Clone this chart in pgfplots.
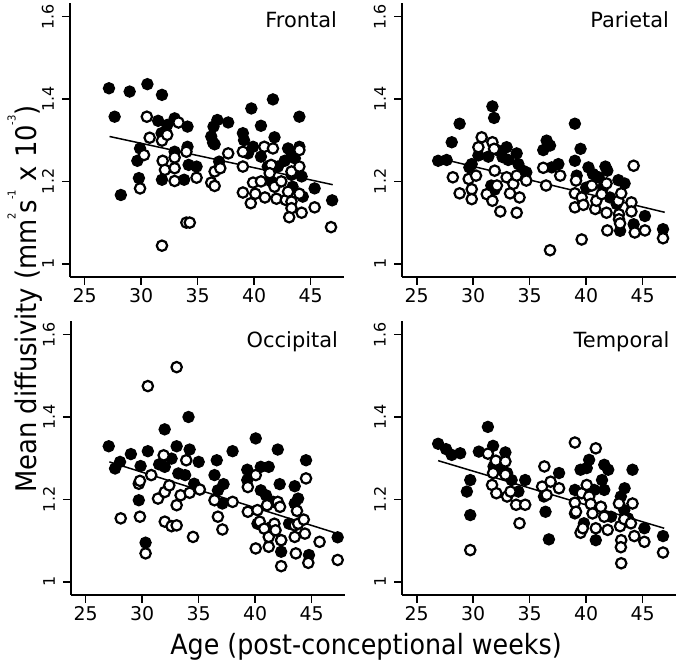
\documentclass[border=0pt]{standalone}
\usepackage{fontspec}
\setmainfont{DejaVu Sans}
\newfontfamily\labfont[FakeStretch=0.91]{DejaVu Sans}
\usepackage{pgfplots}
\pgfplotsset{compat=1.18}
\newcommand\sups[1]{\raisebox{21bp}{\fontsize{11}{11}\selectfont #1}}
\tikzset{ttl/.style={anchor=base east, inner sep=0pt, font=\fontsize{21}{23}\selectfont}}
\pgfplotsset{
  panel/.style={
    width=274bp, height=274bp, scale only axis,
    xmin=23.7, xmax=47.95, ymin=0.968, ymax=1.633,
    axis x line*=bottom, axis y line*=left,
    axis line style={line width=1.8bp, -},
    xtick={25,30,35,40,45}, ytick={1,1.2,1.4,1.6},
    tick align=outside, major tick length=8bp,
    every tick/.style={line width=1.6bp, black},
    xticklabel style={font=\fontsize{19}{21}\selectfont},
    yticklabel style={font=\fontsize{16}{18}\selectfont, rotate=90, anchor=south, inner sep=0pt},
    yticklabel shift=8bp,
    /pgf/number format/assume math mode=true,
    clip=false,
  },
  filled/.style={only marks, mark=*, mark size=5.6bp, mark options={fill=black, draw=black, line width=1.2bp}},
  open/.style={only marks, mark=*, mark size=5.2bp, mark options={fill=white, draw=black, line width=2.2bp}},
  reg/.style={black, line width=1.5bp, no marks},
}
\begin{document}
\begin{tikzpicture}[x=1bp,y=1bp]
\path[use as bounding box] (0,0) rectangle (680,662);

% ---------- Frontal ----------
\begin{axis}[panel, at={(70bp,385bp)}]
\addplot[filled] table {
27.15 1.426
27.65 1.357
28.98 1.418
30.55 1.436
31.84 1.41
28.2 1.167
29.8 1.208
29.66 1.25
29.9 1.28
31.5 1.347
32.3 1.337
32.96 1.353
31.8 1.317
31.84 1.204
32.96 1.272
33.8 1.204
34.1 1.333
34.1 1.284
34.2 1.24
34.9 1.236
36.2 1.309
36.36 1.294
36.5 1.29
36.74 1.349
36.4 1.333
36.9 1.248
37.7 1.343
39.75 1.377
40.6 1.335
41.66 1.399
41.8 1.307
44.0 1.357
39.0 1.317
39.1 1.3
39.9 1.284
39.45 1.268
40.6 1.26
41.2 1.236
42.1 1.236
43.0 1.28
43.3 1.268
43.6 1.256
44.0 1.284
43.3 1.216
44.2 1.212
43.4 1.187
44.3 1.163
45.35 1.183
46.9 1.154
42.7 1.25
41.5 1.2
};
\addplot[open] table {
30.5 1.357
30.75 1.306
30.25 1.264
29.9 1.183
31.84 1.299
32.3 1.313
33.3 1.343
31.9 1.25
32.96 1.258
32.1 1.228
32.96 1.232
32.96 1.201
34.0 1.272
34.9 1.209
34.0 1.1
34.3 1.1
31.84 1.044
36.2 1.197
36.5 1.189
36.5 1.224
37.0 1.232
37.7 1.268
39.0 1.272
39.0 1.236
39.0 1.173
39.7 1.147
39.9 1.197
40.1 1.17
40.6 1.2
40.95 1.161
40.9 1.284
41.66 1.28
41.5 1.24
41.8 1.187
41.97 1.158
41.37 1.22
42.8 1.155
43.0 1.175
43.3 1.224
43.3 1.151
43.3 1.135
43.1 1.113
44.0 1.276
44.0 1.236
44.2 1.124
44.0 1.17
45.35 1.137
46.8 1.089
42.4 1.2
};
\addplot[reg] coordinates {(27.2,1.309) (46.95,1.192)};
\node[ttl] at (rel axis cs:0.975,0.909) {Frontal};
\end{axis}

% ---------- Parietal ----------
\begin{axis}[panel, at={(402bp,385bp)}]
\addplot[filled] table {
26.9 1.25
27.65 1.252
28.1 1.295
28.8 1.34
29.66 1.234
29.87 1.242
30.46 1.263
31.34 1.26
31.7 1.382
31.85 1.354
32.2 1.275
32.6 1.259
32.96 1.283
33.1 1.252
33.85 1.268
34.0 1.242
34.4 1.226
34.7 1.222
31.6 1.19
31.9 1.18
36.2 1.276
36.5 1.299
36.8 1.287
37.54 1.242
36.95 1.234
39.0 1.34
39.5 1.279
39.0 1.25
39.16 1.214
40.2 1.234
40.6 1.218
41.1 1.21
41.7 1.236
41.87 1.226
42.1 1.161
42.85 1.203
43.4 1.195
43.0 1.08
44.2 1.096
45.2 1.116
46.8 1.084
41.5 1.185
40.0 1.185
42.7 1.145
};
\addplot[open] table {
28.2 1.21
28.8 1.171
29.6 1.206
29.87 1.181
29.87 1.157
30.25 1.214
30.46 1.283
30.75 1.307
31.2 1.169
31.7 1.153
31.7 1.295
31.85 1.279
31.9 1.226
32.1 1.19
32.4 1.127
32.96 1.21
33.26 1.171
33.55 1.194
33.85 1.124
34.1 1.161
33.85 1.214
34.7 1.202
36.2 1.233
36.45 1.19
36.8 1.033
37.7 1.214
39.1 1.202
39.0 1.171
39.0 1.137
39.6 1.161
39.6 1.059
39.75 1.143
40.5 1.19
40.8 1.133
40.9 1.153
41.37 1.169
41.8 1.195
41.8 1.124
41.87 1.081
42.85 1.153
42.9 1.12
43.1 1.171
42.9 1.108
43.0 1.098
44.2 1.238
44.0 1.149
44.0 1.127
44.3 1.076
45.2 1.081
46.8 1.062
};
\addplot[reg] coordinates {(27.0,1.256) (46.95,1.125)};
\node[ttl] at (rel axis cs:0.975,0.909) {Parietal};
\end{axis}

% ---------- Occipital ----------
\begin{axis}[panel, at={(71bp,67bp)}]
\addplot[filled] table {
27.04 1.329
27.6 1.275
28.04 1.291
29.0 1.31
29.86 1.281
29.7 1.198
30.3 1.095
30.5 1.317
31.99 1.37
31.5 1.285
32.0 1.279
32.6 1.299
33.05 1.329
33.2 1.263
34.1 1.4
34.2 1.321
34.6 1.238
35.0 1.291
33.8 1.259
36.6 1.295
36.4 1.259
36.7 1.222
37.2 1.237
37.1 1.19
38.0 1.317
39.3 1.272
39.3 1.247
40.05 1.348
40.5 1.279
41.2 1.279
40.5 1.222
40.96 1.21
42.0 1.321
42.17 1.237
41.6 1.194
42.3 1.101
42.3 1.073
43.5 1.232
43.8 1.202
43.5 1.19
44.5 1.295
44.76 1.065
47.3 1.108
40.2 1.141
41.4 1.133
43.0 1.141
};
\addplot[open] table {
30.5 1.475
33.05 1.521
28.1 1.154
29.7 1.238
29.8 1.245
29.8 1.158
30.3 1.069
30.8 1.259
31.4 1.202
31.9 1.307
32.0 1.218
32.0 1.146
32.4 1.234
32.6 1.135
33.05 1.137
33.05 1.186
33.4 1.21
33.9 1.295
34.2 1.216
34.5 1.109
35.1 1.224
36.4 1.198
36.7 1.158
37.1 1.127
38.0 1.194
39.35 1.17
39.35 1.23
40.05 1.259
40.05 1.081
40.2 1.174
40.4 1.146
40.8 1.129
41.05 1.186
41.2 1.085
41.2 1.109
41.7 1.141
41.8 1.125
42.0 1.194
42.2 1.182
42.3 1.101
42.3 1.038
43.5 1.137
43.5 1.109
43.6 1.069
43.7 1.172
43.8 1.141
44.3 1.151
44.4 1.117
44.5 1.251
44.7 1.046
45.7 1.097
47.3 1.053
};
\addplot[reg] coordinates {(27.1,1.291) (47.3,1.117)};
\node[ttl] at (rel axis cs:0.975,0.905) {Occipital};
\end{axis}

% ---------- Temporal ----------
\begin{axis}[panel, at={(402bp,67bp)}]
\addplot[filled] table {
26.9 1.335
27.6 1.322
28.1 1.308
28.85 1.312
29.44 1.219
29.74 1.247
29.74 1.162
30.5 1.316
31.3 1.376
31.76 1.33
31.8 1.28
32.4 1.272
32.85 1.314
33.0 1.264
33.4 1.247
34.0 1.219
34.6 1.247
36.26 1.207
36.4 1.17
36.7 1.103
37.6 1.264
39.0 1.223
39.5 1.272
40.26 1.296
40.05 1.276
40.7 1.223
40.85 1.101
41.6 1.284
41.95 1.272
41.4 1.247
41.6 1.223
44.1 1.272
43.07 1.207
43.4 1.227
43.37 1.174
43.7 1.154
45.15 1.13
46.8 1.111
39.0 1.166
39.8 1.142
42.2 1.158
41.3 1.182
};
\addplot[open] table {
31.3 1.311
31.76 1.264
32.0 1.294
31.67 1.235
32.05 1.215
32.85 1.292
32.85 1.26
33.0 1.207
33.3 1.219
33.8 1.187
34.1 1.142
34.6 1.187
29.74 1.077
36.1 1.231
36.3 1.28
36.5 1.211
36.85 1.243
37.6 1.227
39.0 1.338
39.0 1.192
39.1 1.17
39.5 1.119
39.7 1.13
39.6 1.215
40.05 1.235
40.26 1.207
40.4 1.189
40.56 1.166
40.85 1.324
40.85 1.13
41.3 1.182
41.6 1.158
41.9 1.126
42.9 1.19
43.0 1.135
43.1 1.101
43.07 1.084
43.1 1.045
43.37 1.152
43.96 1.142
44.1 1.19
44.26 1.111
45.15 1.097
46.8 1.071
};
\addplot[reg] coordinates {(26.9,1.294) (46.9,1.13)};
\node[ttl] at (rel axis cs:0.977,0.905) {Temporal};
\end{axis}

\node[rotate=90, anchor=base, inner sep=0pt, font=\labfont\fontsize{28.5}{30}\selectfont] at (36.5,363)
  {Mean diffusivity (mm\sups{2}s\sups{-1} x 10\sups{-3})};
\node[anchor=base, inner sep=0pt, font=\labfont\fontsize{28}{30}\selectfont] at (366,7.5)
  {Age (post-conceptional weeks)};
\end{tikzpicture}
\end{document}
